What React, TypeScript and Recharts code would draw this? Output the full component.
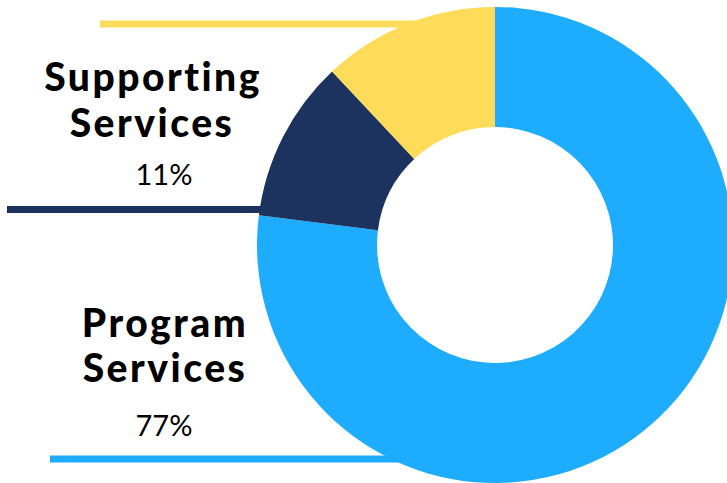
import { PieChart, Pie, Cell } from 'recharts';

// Expense breakdown (share of total, percent)
const categories = ['Program Services', 'Supporting Services', 'Other'];
const values = [77, 11, 12];
const percentLabels = ['77%', '11%', ''];
const colors = ['#1DACFE', '#1B335E', '#FEDC5A'];

const W = 727;
const H = 483;
const CX = 495;
const CY = 245;
const OUTER = 238;
const INNER = 118;

const data = categories.map((name, i) => ({ name, value: values[i] }));

// x where a horizontal line at y meets the left side of the donut
const edgeX = (y: number) => CX - Math.sqrt(OUTER * OUTER - (y - CY) * (y - CY)) + 2;

const boldStyle = {
  fontFamily: 'Lato, sans-serif',
  fontWeight: 900,
  fontSize: 39,
  letterSpacing: 2.5,
  fill: '#000',
} as const;

const pctStyle = {
  fontFamily: 'Lato, sans-serif',
  fontWeight: 400,
  fontSize: 29,
  fill: '#000',
} as const;

export default function App() {
  return (
    <div style={{ position: 'absolute', left: 0, top: 0, width: W, height: H, background: '#fff', overflow: 'hidden' }}>
      {/* leader lines sit behind the donut; only the navy one would cross the hole */}
      <svg width={W} height={H} style={{ position: 'absolute', left: 0, top: 0 }}>
        <line x1={100} x2={CX} y1={24} y2={24} stroke={colors[2]} strokeWidth={7} />
        <line x1={7} x2={edgeX(209.5) + 10} y1={209.5} y2={209.5} stroke={colors[1]} strokeWidth={7} />
        <line x1={50} x2={CX} y1={459} y2={459} stroke={colors[0]} strokeWidth={7} />
      </svg>

      <div style={{ position: 'absolute', left: 0, top: 0 }}>
        <PieChart width={W} height={H} margin={{ top: 0, right: 0, bottom: 0, left: 0 }}>
          <Pie
            data={data}
            dataKey="value"
            nameKey="name"
            cx={CX}
            cy={CY}
            innerRadius={INNER}
            outerRadius={OUTER}
            startAngle={90}
            endAngle={-270}
            stroke="none"
            isAnimationActive={false}
          >
            {data.map((d, i) => (
              <Cell key={d.name} fill={colors[i]} />
            ))}
          </Pie>
        </PieChart>
      </div>

      <svg width={W} height={H} style={{ position: 'absolute', left: 0, top: 0, pointerEvents: 'none' }}>
        <text x={153} y={91} textAnchor="middle" style={boldStyle}>Supporting</text>
        <text x={152} y={137} textAnchor="middle" style={boldStyle}>Services</text>
        <text x={164} y={185} textAnchor="middle" style={pctStyle}>{percentLabels[1]}</text>

        <text x={165} y={337} textAnchor="middle" style={boldStyle}>Program</text>
        <text x={165} y={382} textAnchor="middle" style={boldStyle}>Services</text>
        <text x={164} y={436} textAnchor="middle" style={pctStyle}>{percentLabels[0]}</text>
      </svg>
    </div>
  );
}
